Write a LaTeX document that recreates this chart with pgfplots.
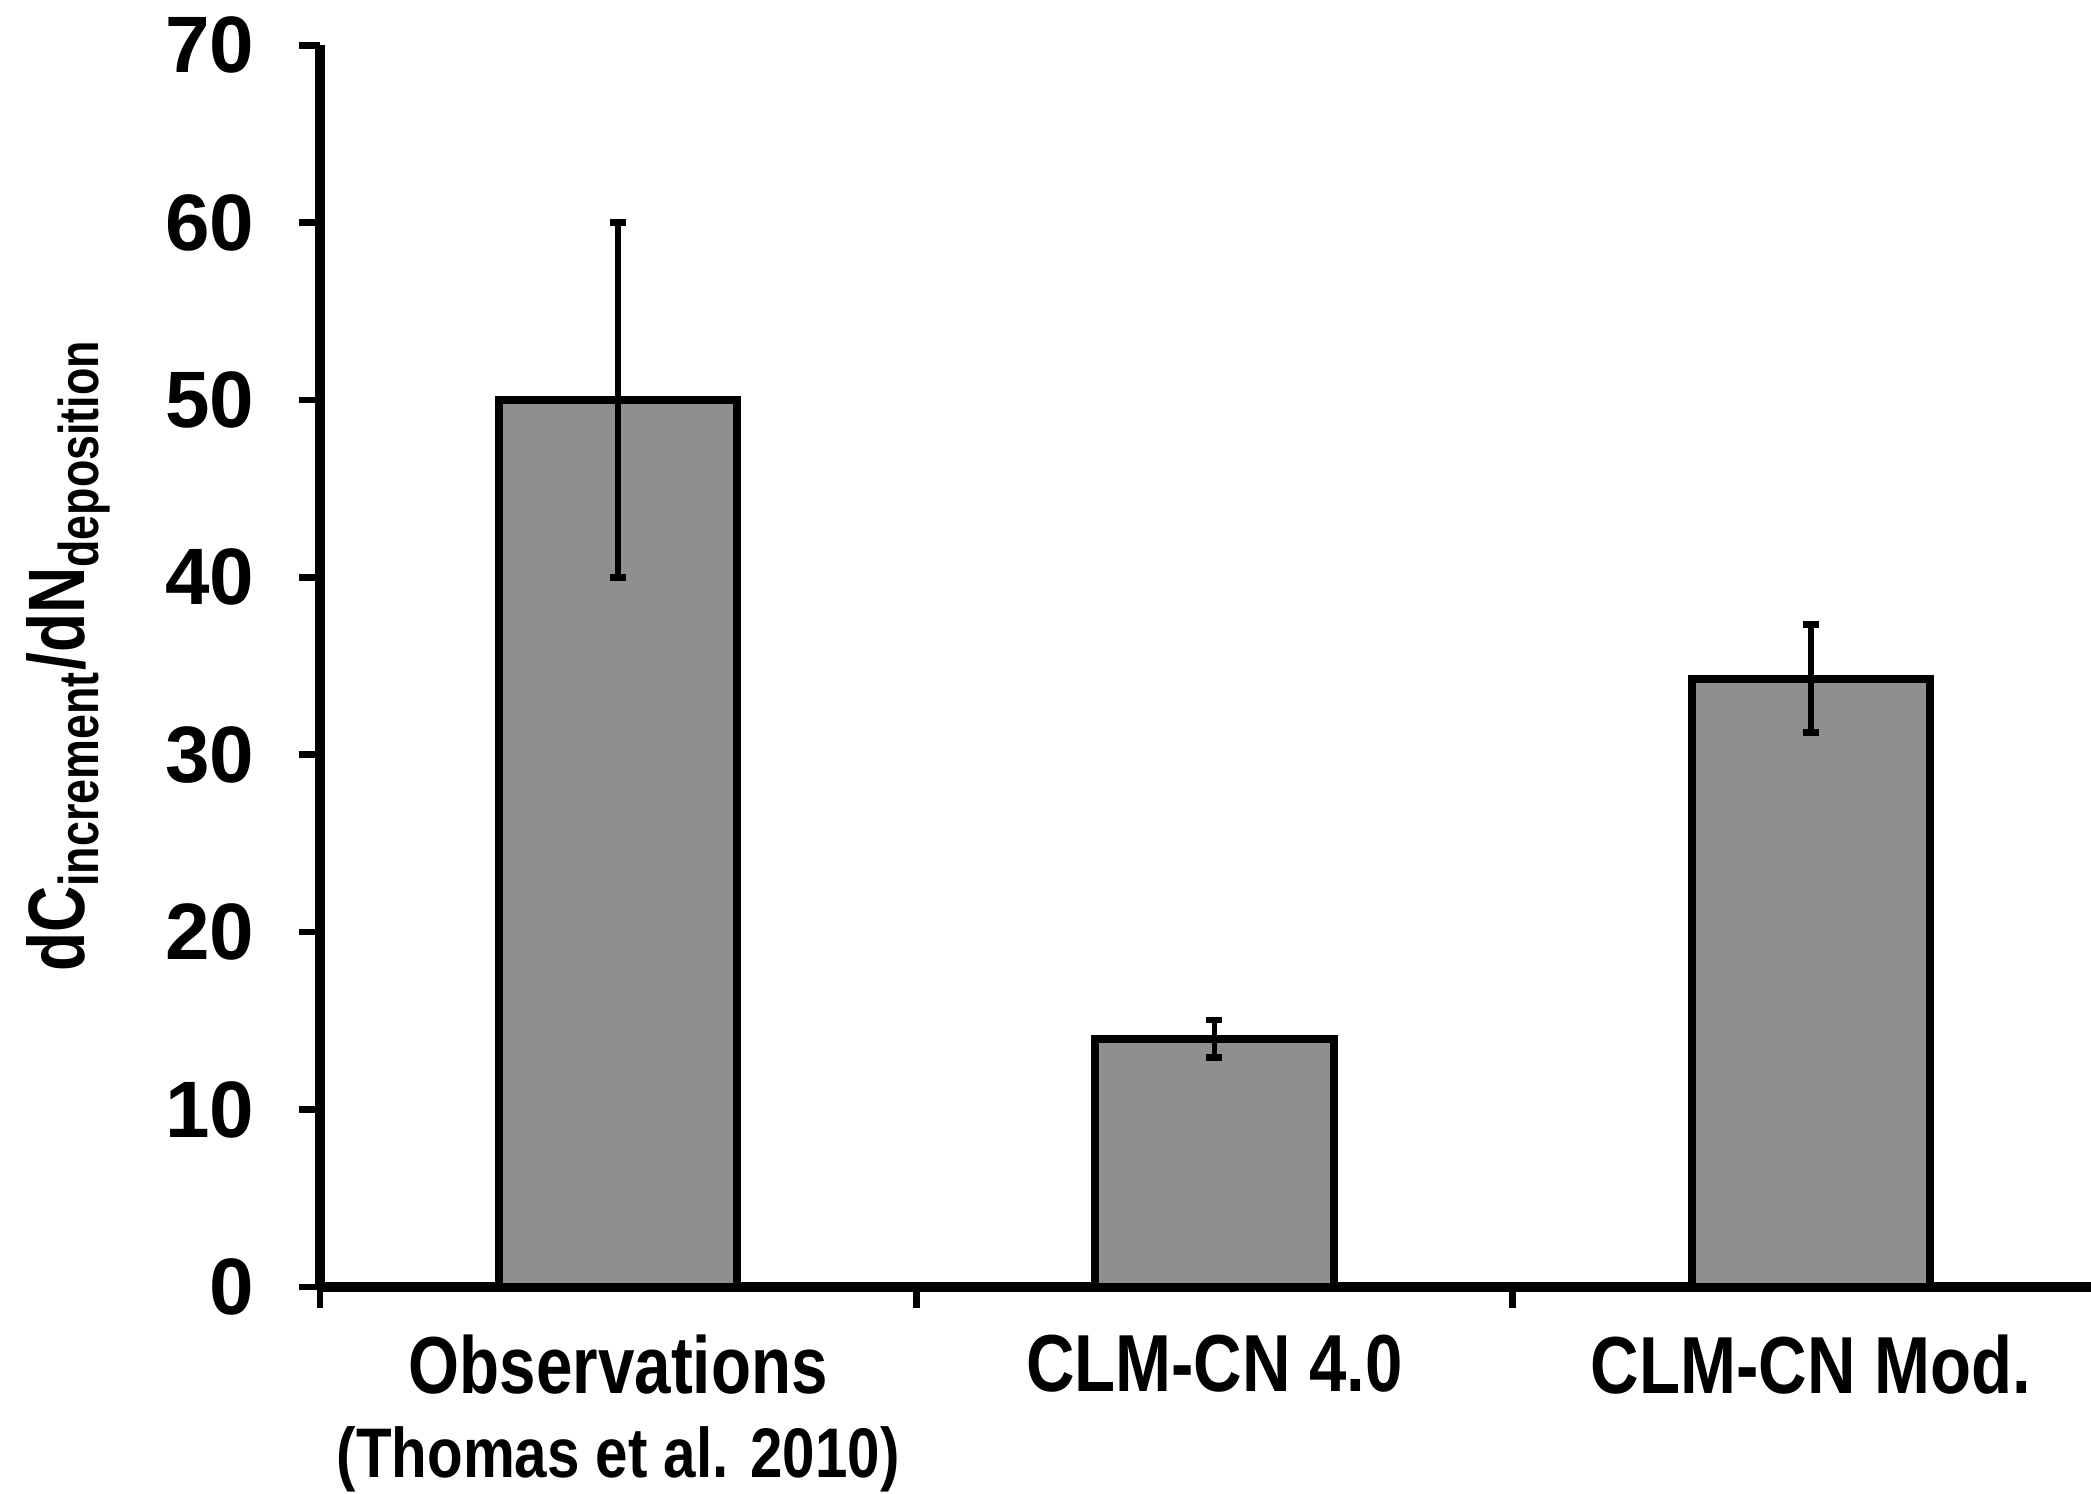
\documentclass[border=0pt]{standalone}
\usepackage{pgfplots}
\pgfplotsset{compat=1.18}
\usepackage{fontspec}
\setmainfont{Liberation Sans}
\usepackage{graphicx}
\definecolor{barGray}{RGB}{143,143,143}
\begin{document}
\begin{tikzpicture}
\useasboundingbox (-72pt,-46.5pt) rectangle (398.4pt,289.5pt);
\begin{axis}[
  scale only axis, width=398.4pt, height=279.3pt,
  xmin=-0.5, xmax=2.47, ymin=0, ymax=70,
  axis lines=left,
  axis line style={-, line width=2.2pt, black},
  ytick={0,10,...,70},
  xtick={0,1,2},
  minor xtick={-0.5,0.5,1.5},
  tick align=outside,
  major tick length=4.8pt, minor tick length=4.8pt,
  tick style={black, line width=1.5pt},
  major x tick style={draw=none},
  /pgf/number format/assume math mode=true,
  yticklabel style={font=\bfseries\fontsize{18}{18}\selectfont, xshift=-6.5pt},
  xticklabels={{\scalebox{0.81}[1]{Observations}\\{\fontsize{15.8}{15.8}\selectfont\scalebox{0.83}[1]{(Thomas et al. 2010)}}},
               {\scalebox{0.83}[1]{CLM-CN 4.0}},
               {\scalebox{0.83}[1]{CLM-CN Mod.}}},
  xticklabel style={font=\bfseries\fontsize{18.2}{19}\selectfont, align=center, anchor=north, yshift=-2.4pt},
  clip=false,
]
\addplot[ybar, bar width=0.4, fill=barGray, draw=black, line width=1.8pt,
  error bars/.cd, y dir=both, y explicit,
  error bar style={line width=1.3pt, black},
  error mark options={rotate=90, line width=1.5pt, mark size=1.8pt, black}]
  coordinates {(0,50) +- (0,10) (1,14) +- (0,1.05) (2,34.3) +- (0,3.05)};
\end{axis}
\node[rotate=90, anchor=base, font=\bfseries\fontsize{18}{18}\selectfont] at (-53pt,142pt)
  {\scalebox{0.8}[1]{dC\textsubscript{increment}/dN\textsubscript{deposition}}};
\end{tikzpicture}
\end{document}
